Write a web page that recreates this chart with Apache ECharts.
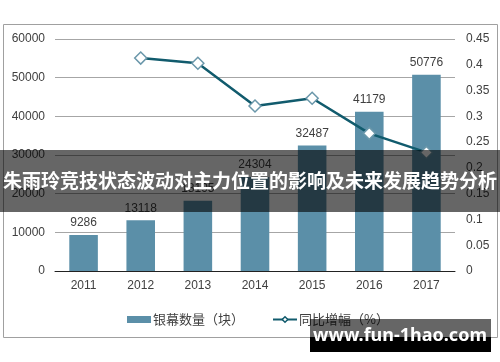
<!DOCTYPE html>
<html><head><meta charset="utf-8">
<script src="https://cdn.jsdelivr.net/npm/echarts@6/dist/echarts.min.js"></script>
<style>html,body{margin:0;padding:0;background:#fff}#c{width:500px;height:362px}</style>
</head><body><div id="c"></div>
<script>
var years = ['2011','2012','2013','2014','2015','2016','2017'];
var screens = [9286, 13118, 18195, 24304, 32487, 41179, 50776];
var growth = [null, 0.413, 0.403, 0.320, 0.335, 0.267, 0.230];
var leftTicks = {min:0, max:60000, interval:10000};
var rightTicks = {min:0, max:0.45, interval:0.05};
var titleText = '朱雨玲竞技状态波动对主力位置的影响及未来发展趋势分析';
var watermark = 'www.fun-1hao.com';

var chart = echarts.init(document.getElementById('c'), null, {renderer:'canvas'});
var txt = '#404040';
var fam = 'Liberation Sans, Arial, Noto Sans CJK SC, sans-serif';
chart.setOption({
  animation:false,
  textStyle:{fontFamily:fam},
  grid:{left:55, right:45, top:39, bottom:91},
  legend:{
    left:122, top:308, itemGap:28, itemWidth:24, itemHeight:7,
    textStyle:{fontSize:13, color:txt, fontFamily:'Noto Sans CJK SC, sans-serif', padding:[0,0,0,-3]},
    data:[{name:'银幕数量（块）', icon:'rect'},{name:'同比增幅（%）', itemStyle:{color:'#fff', borderColor:'#115b6d', borderWidth:1.5}}]
  },
  xAxis:{type:'category', data:years,
    axisLine:{lineStyle:{color:'#222', width:1}}, axisTick:{show:false},
    axisLabel:{color:txt, fontSize:12, margin:9}},
  yAxis:[
    {type:'value', min:leftTicks.min, max:leftTicks.max, interval:leftTicks.interval,
     axisLine:{show:false}, axisTick:{show:false},
     axisLabel:{color:txt, fontSize:12, margin:10, formatter:function(v){return String(v);}},
     splitLine:{lineStyle:{color:'#a6a6a6', width:1}}},
    {type:'value', min:rightTicks.min, max:rightTicks.max, interval:rightTicks.interval,
     axisLine:{show:false}, axisTick:{show:false},
     axisLabel:{color:txt, fontSize:12, margin:11, formatter:function(v){return String(+v.toFixed(2));}},
     splitLine:{show:false}}
  ],
  series:[
    {name:'银幕数量（块）', type:'bar', data:screens, barWidth:'50%',
     itemStyle:{color:'#5b8fa8'},
     label:{show:true, position:'top', color:txt, fontSize:12, distance:6}},
    {name:'同比增幅（%）', type:'line', yAxisIndex:1, data:growth, z:5,
     lineStyle:{color:'#115b6d', width:2.5},
     symbol:'diamond', symbolSize:12, showAllSymbol:true,
     itemStyle:{color:'#fff', borderColor:'#6a97aa', borderWidth:1.5}}
  ],
  graphic:[
    {type:'rect', shape:{x:3.5, y:24.5, width:494, height:313}, style:{fill:'none', stroke:'#a0a0a0', lineWidth:1}, z:1, silent:true},
    {type:'rect', shape:{x:0, y:150, width:500, height:62}, style:{fill:'rgba(0,0,0,0.6)'}, z:100, silent:true},
    {type:'text', x:250, y:181, style:{text:titleText, fill:'#fff', font:'bold 19px "Noto Sans CJK SC", sans-serif', textAlign:'center', textVerticalAlign:'middle'}, z:101, silent:true},
    {type:'rect', shape:{x:310, y:319, width:181, height:18}, style:{fill:'rgba(0,0,0,0.6)'}, z:100, silent:true},
    {type:'rect', shape:{x:310, y:337, width:181, height:15}, style:{fill:'#000'}, z:100, silent:true},
    {type:'text', x:400, y:336, style:{text:watermark, fill:'#fff', font:'bold 18px "Noto Sans", "DejaVu Sans", sans-serif', textAlign:'center', textVerticalAlign:'middle'}, z:101, silent:true}
  ]
});
</script></body></html>
